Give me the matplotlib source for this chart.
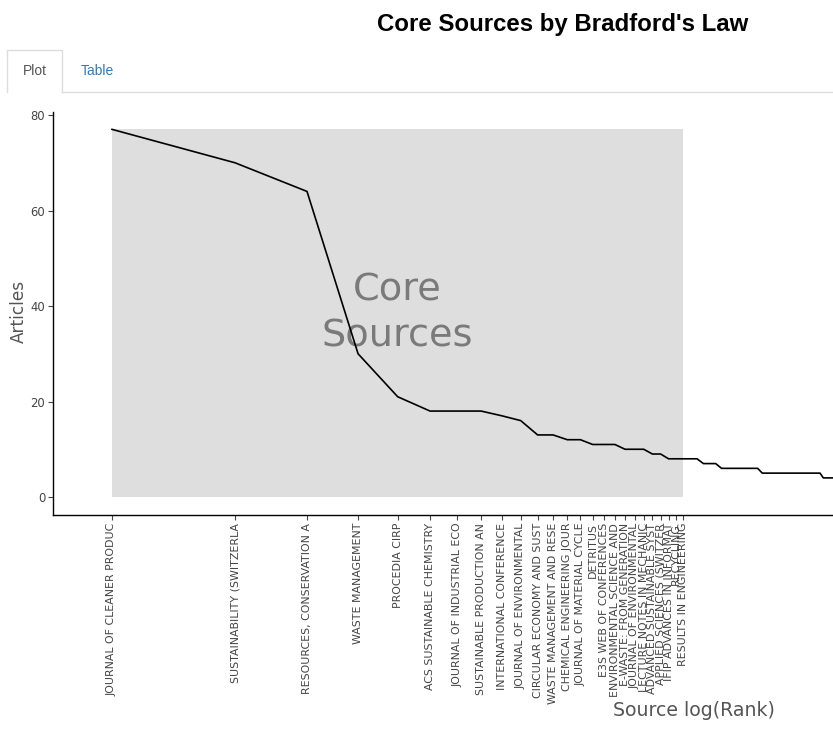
import numpy as np
import matplotlib
matplotlib.use("Agg")
import matplotlib.pyplot as plt
from matplotlib.lines import Line2D
from matplotlib.patches import Rectangle

# Fuentes core (etiquetas del eje x, recortadas a 25 caracteres)
fuentes = [
    "JOURNAL OF CLEANER PRODUC",
    "SUSTAINABILITY (SWITZERLA",
    "RESOURCES, CONSERVATION A",
    "WASTE MANAGEMENT",
    "PROCEDIA CIRP",
    "ACS SUSTAINABLE CHEMISTRY",
    "JOURNAL OF INDUSTRIAL ECO",
    "SUSTAINABLE PRODUCTION AN",
    "INTERNATIONAL CONFERENCE",
    "JOURNAL OF ENVIRONMENTAL",
    "CIRCULAR ECONOMY AND SUST",
    "WASTE MANAGEMENT AND RESE",
    "CHEMICAL ENGINEERING JOUR",
    "JOURNAL OF MATERIAL CYCLE",
    "DETRITUS",
    "E3S WEB OF CONFERENCES",
    "ENVIRONMENTAL SCIENCE AND",
    "E-WASTE: FROM GENERATION",
    "JOURNAL OF ENVIRONMENTAL",
    "LECTURE NOTES IN MECHANIC",
    "ADVANCED SUSTAINABLE SYST",
    "APPLIED SCIENCES (SWITZER",
    "IFIP ADVANCES IN INFORMAT",
    "RECYCLING",
    "RESULTS IN ENGINEERING",
]

# Articulos por fuente, en orden de rango (lo visible en la imagen)
articulos = [77, 70, 64, 30, 21, 18, 18, 18, 17, 16,
             13, 13, 12, 12, 11, 11, 11, 10, 10, 10,
             9, 9, 8, 8, 8, 8, 8, 7, 7, 7,
             6, 6, 6, 6, 6, 6, 6, 6, 5, 5,
             5, 5, 5, 5, 5, 5, 5, 5, 5, 5,
             5, 5, 5, 5, 4, 4, 4, 4]
rangos = np.arange(1, len(articulos) + 1)

n_core = len(fuentes)

W, H = 833, 735


def fx(px):
    return px / W


def fy(py):
    return 1 - py / H


fig = plt.figure(figsize=(W / 100, H / 100), dpi=100)
ax = fig.add_axes([fx(53), fy(515), fx(833) - fx(53), fy(111.7) - fy(515)])

x = np.log(rangos)
ax.add_patch(Rectangle((0, 0), np.log(n_core), max(articulos),
                       facecolor="#dedede", edgecolor="none", zorder=1))
ax.plot(x, articulos, color="black", lw=1.2, zorder=3)
ax.text(np.log(n_core) / 2, max(articulos) / 2, "Core\nSources",
        fontsize=27.5, color="#7a7a7a", ha="center", va="center",
        linespacing=1.35, zorder=2)

ax.set_xlim(-0.3324, 4.062)
ax.set_ylim(-3.77, 80.7)

ax.set_xticks(np.log(rangos[:n_core]))
ax.set_xticklabels(fuentes, rotation=90, ha="right", va="center",
                   rotation_mode="anchor", fontsize=7.9, color="#444444")
ax.set_yticks([0, 20, 40, 60, 80])
ax.tick_params(axis="y", labelsize=8.4, labelcolor="#444444", color="#444444",
               length=3.6, width=0.8, pad=2)
ax.tick_params(axis="x", color="#444444", length=3.6, width=0.8, pad=2)

for lado in ["top", "right"]:
    ax.spines[lado].set_visible(False)
for lado in ["left", "bottom"]:
    ax.spines[lado].set_linewidth(1.0)
    ax.spines[lado].set_color("black")

# titulos
fig.text(fx(563), fy(24), "Core Sources by Bradford's Law",
         family="Liberation Sans", fontweight="bold", fontsize=17.3,
         ha="center", va="center", color="black")
fig.text(fx(19), fy(311), "Articles", rotation=90, fontsize=12.2,
         color="#555555", ha="center", va="center")
fig.text(fx(694), fy(711), "Source log(Rank)", fontsize=13.6,
         color="#555555", ha="center", va="center")

# pestañas Plot / Table
borde = "#dddddd"
fig.add_artist(Line2D([fx(62), fx(833)], [fy(92), fy(92)], color=borde, lw=1))
fig.add_artist(Line2D([fx(7), fx(7), fx(62), fx(62)],
                      [fy(92), fy(50), fy(50), fy(92)], color=borde, lw=1))
fig.text(fx(34.5), fy(71), "Plot", family="Liberation Sans", fontsize=10,
         color="#555555", ha="center", va="center")
fig.text(fx(97), fy(71), "Table", family="Liberation Sans", fontsize=10,
         color="#337ab7", ha="center", va="center")

fig.savefig("out.png", dpi=100)
